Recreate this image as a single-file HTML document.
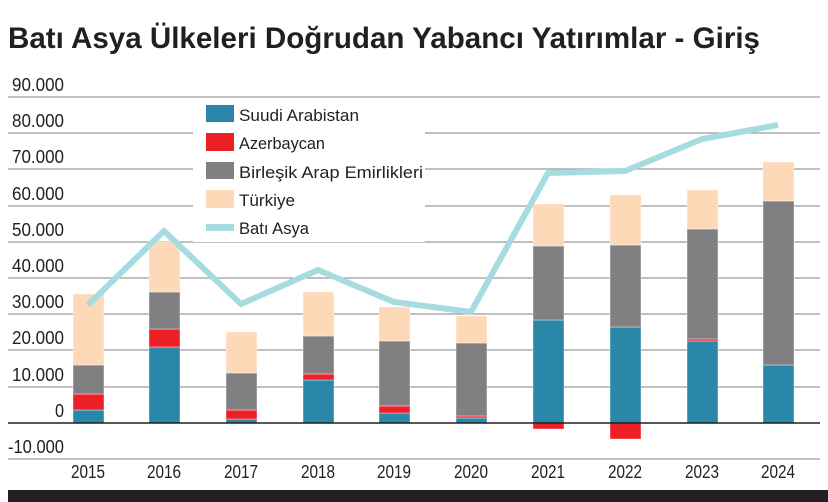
<!DOCTYPE html>
<html><head><meta charset="utf-8"><style>
html,body{margin:0;padding:0;background:#fff;}
svg{display:block;}
text{font-family:"Liberation Sans Narrow","Liberation Sans",sans-serif;fill:#231f20;}
</style></head><body>
<svg width="828" height="502" viewBox="0 0 828 502" xmlns="http://www.w3.org/2000/svg">
<text x="8" y="48" font-size="30" font-weight="bold" textLength="752" lengthAdjust="spacingAndGlyphs">Batı Asya Ülkeleri Doğrudan Yabancı Yatırımlar - Giriş</text>
<g stroke="#9a9a9a" stroke-width="1.3">
<line x1="8" x2="820" y1="97" y2="97"/>
<line x1="8" x2="820" y1="133" y2="133"/>
<line x1="8" x2="820" y1="169" y2="169"/>
<line x1="8" x2="820" y1="206" y2="206"/>
<line x1="8" x2="820" y1="242" y2="242"/>
<line x1="8" x2="820" y1="278" y2="278"/>
<line x1="8" x2="820" y1="314" y2="314"/>
<line x1="8" x2="820" y1="350" y2="350"/>
<line x1="8" x2="820" y1="387" y2="387"/>
<line x1="8" x2="820" y1="459" y2="459"/>
</g>
<rect x="193" y="100" width="232" height="142" fill="#fff"/>
<g font-size="18">
<text x="12" y="91" textLength="52" lengthAdjust="spacingAndGlyphs">90.000</text>
<text x="12" y="127" textLength="52" lengthAdjust="spacingAndGlyphs">80.000</text>
<text x="12" y="163" textLength="52" lengthAdjust="spacingAndGlyphs">70.000</text>
<text x="12" y="200" textLength="52" lengthAdjust="spacingAndGlyphs">60.000</text>
<text x="12" y="236" textLength="52" lengthAdjust="spacingAndGlyphs">50.000</text>
<text x="12" y="272" textLength="52" lengthAdjust="spacingAndGlyphs">40.000</text>
<text x="12" y="308" textLength="52" lengthAdjust="spacingAndGlyphs">30.000</text>
<text x="12" y="344" textLength="52" lengthAdjust="spacingAndGlyphs">20.000</text>
<text x="12" y="381" textLength="52" lengthAdjust="spacingAndGlyphs">10.000</text>
<text x="55" y="417" textLength="9" lengthAdjust="spacingAndGlyphs">0</text>
<text x="8" y="453" textLength="56" lengthAdjust="spacingAndGlyphs">-10.000</text>
</g>
<g stroke="#fff" stroke-opacity="0.4" stroke-width="1">
<rect x="73" y="410" width="31" height="13" fill="#2a87a8"/>
<rect x="73" y="394" width="31" height="16" fill="#ee2027"/>
<rect x="73" y="365" width="31" height="29" fill="#808083"/>
<rect x="73" y="294" width="31" height="71" fill="#fdd9b8"/>
<rect x="149" y="347" width="31" height="76" fill="#2a87a8"/>
<rect x="149" y="329" width="31" height="18" fill="#ee2027"/>
<rect x="149" y="292" width="31" height="37" fill="#808083"/>
<rect x="149" y="242" width="31" height="50" fill="#fdd9b8"/>
<rect x="226" y="419" width="31" height="4" fill="#2a87a8"/>
<rect x="226" y="410" width="31" height="9" fill="#ee2027"/>
<rect x="226" y="373" width="31" height="37" fill="#808083"/>
<rect x="226" y="332" width="31" height="41" fill="#fdd9b8"/>
<rect x="303" y="380" width="31" height="43" fill="#2a87a8"/>
<rect x="303" y="374" width="31" height="6" fill="#ee2027"/>
<rect x="303" y="336" width="31" height="38" fill="#808083"/>
<rect x="303" y="292" width="31" height="44" fill="#fdd9b8"/>
<rect x="379" y="413" width="31" height="10" fill="#2a87a8"/>
<rect x="379" y="406" width="31" height="7" fill="#ee2027"/>
<rect x="379" y="341" width="31" height="65" fill="#808083"/>
<rect x="379" y="307" width="31" height="34" fill="#fdd9b8"/>
<rect x="456" y="418" width="31" height="5" fill="#2a87a8"/>
<rect x="456" y="416" width="31" height="2" fill="#ee2027"/>
<rect x="456" y="343" width="31" height="73" fill="#808083"/>
<rect x="456" y="316" width="31" height="27" fill="#fdd9b8"/>
<rect x="533" y="320" width="31" height="103" fill="#2a87a8"/>
<rect x="533" y="423" width="31" height="6" fill="#ee2027"/>
<rect x="533" y="246" width="31" height="74" fill="#808083"/>
<rect x="533" y="204" width="31" height="42" fill="#fdd9b8"/>
<rect x="610" y="327" width="31" height="96" fill="#2a87a8"/>
<rect x="610" y="423" width="31" height="16" fill="#ee2027"/>
<rect x="610" y="245" width="31" height="82" fill="#808083"/>
<rect x="610" y="195" width="31" height="50" fill="#fdd9b8"/>
<rect x="687" y="341" width="31" height="82" fill="#2a87a8"/>
<rect x="687" y="339" width="31" height="2" fill="#ee2027"/>
<rect x="687" y="229" width="31" height="110" fill="#808083"/>
<rect x="687" y="190" width="31" height="39" fill="#fdd9b8"/>
<rect x="763" y="365" width="31" height="58" fill="#2a87a8"/>
<rect x="763" y="201" width="31" height="164" fill="#808083"/>
<rect x="763" y="162" width="31" height="39" fill="#fdd9b8"/>
</g>
<line x1="8" x2="820" y1="423" y2="423" stroke="#231f20" stroke-width="1.5"/>
<polyline points="88,305 164,231 241,304 318,270 394,302 471,312 548,173 625,171 702,139 778,125" fill="none" stroke="#a6dbe0" stroke-width="6" stroke-linejoin="miter"/>
<g font-size="17">
<rect x="206" y="105" width="28" height="17" fill="#2a87a8"/>
<text x="239" y="121" textLength="120" lengthAdjust="spacingAndGlyphs">Suudi Arabistan</text>
<rect x="206" y="133" width="28" height="18" fill="#ee2027"/>
<text x="239" y="149" textLength="86" lengthAdjust="spacingAndGlyphs">Azerbaycan</text>
<rect x="206" y="162" width="28" height="17" fill="#808083"/>
<text x="239" y="178" textLength="184" lengthAdjust="spacingAndGlyphs">Birleşik Arap Emirlikleri</text>
<rect x="206" y="190" width="28" height="18" fill="#fdd9b8"/>
<text x="239" y="206" textLength="56" lengthAdjust="spacingAndGlyphs">Türkiye</text>
<rect x="206" y="224" width="28" height="7" fill="#a6dbe0"/>
<text x="239" y="234" textLength="70" lengthAdjust="spacingAndGlyphs">Batı Asya</text>
</g>
<g font-size="18" text-anchor="middle">
<text x="88" y="478" textLength="34" lengthAdjust="spacingAndGlyphs">2015</text><text x="164" y="478" textLength="34" lengthAdjust="spacingAndGlyphs">2016</text><text x="241" y="478" textLength="34" lengthAdjust="spacingAndGlyphs">2017</text><text x="318" y="478" textLength="34" lengthAdjust="spacingAndGlyphs">2018</text><text x="394" y="478" textLength="34" lengthAdjust="spacingAndGlyphs">2019</text><text x="471" y="478" textLength="34" lengthAdjust="spacingAndGlyphs">2020</text><text x="548" y="478" textLength="34" lengthAdjust="spacingAndGlyphs">2021</text><text x="625" y="478" textLength="34" lengthAdjust="spacingAndGlyphs">2022</text><text x="702" y="478" textLength="34" lengthAdjust="spacingAndGlyphs">2023</text><text x="778" y="478" textLength="34" lengthAdjust="spacingAndGlyphs">2024</text>
</g>
<rect x="8" y="490" width="820" height="12" fill="#231f20"/>
</svg>
</body></html>
